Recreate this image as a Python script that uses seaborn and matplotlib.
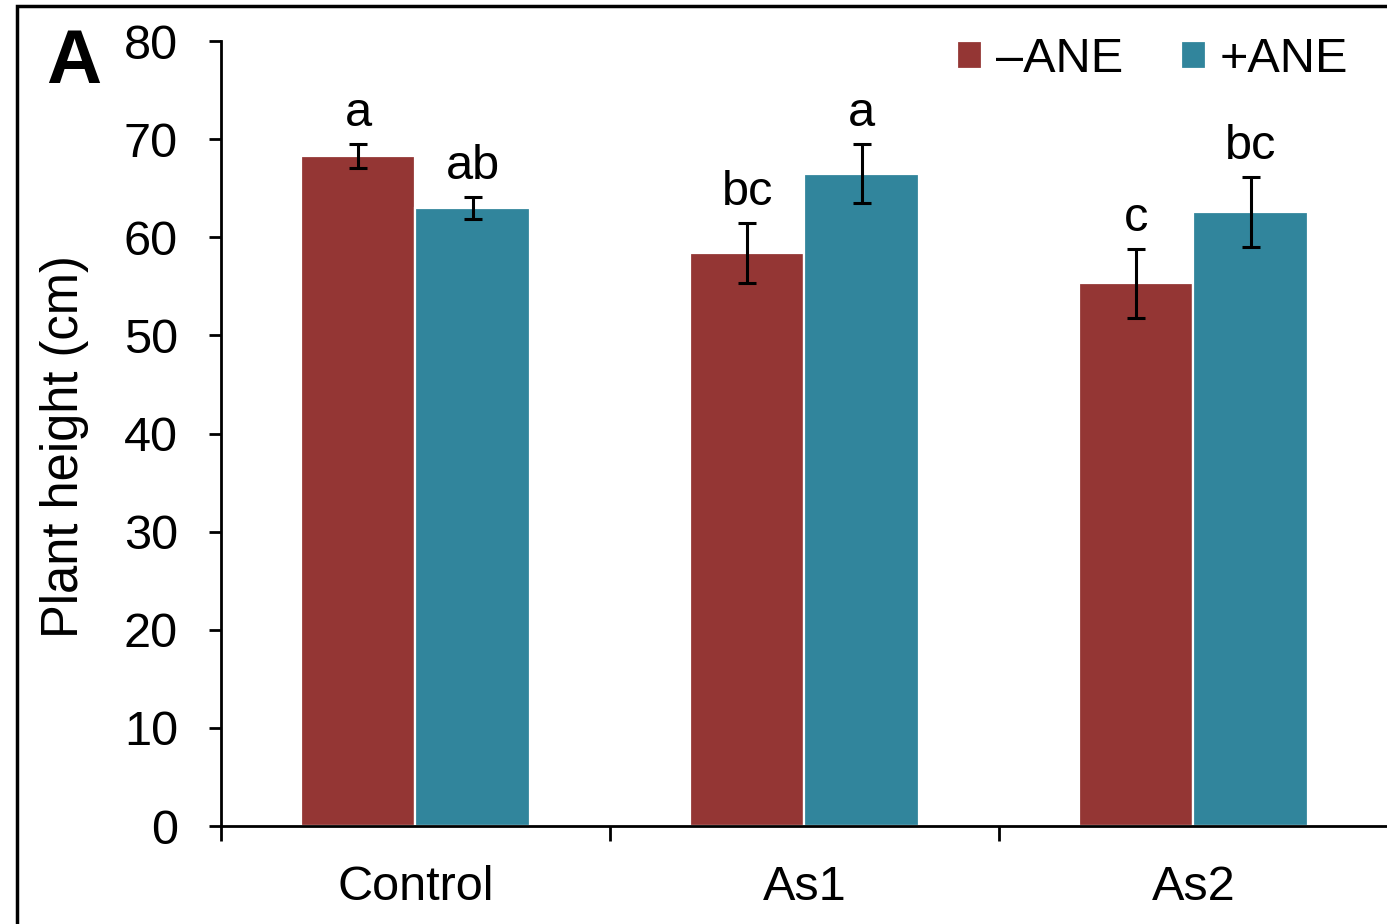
import numpy as np
import pandas as pd
import matplotlib
matplotlib.use("Agg")
import matplotlib.pyplot as plt
from matplotlib.patches import Rectangle
import seaborn as sns

# ------------------ Data ------------------
groups = ["Control", "As1", "As2"]
treatments = ["\u2013ANE", "+ANE"]
minus_ane = [68.3, 58.4, 55.3]
plus_ane = [63.0, 66.5, 62.6]
minus_err = [1.2, 3.1, 3.5]
plus_err = [1.1, 3.0, 3.6]
minus_letters = ["a", "bc", "c"]
plus_letters = ["ab", "a", "bc"]

colors = ["#943634", "#31859C"]

df = pd.DataFrame({
    "Group": groups * 2,
    "Treatment": [treatments[0]] * 3 + [treatments[1]] * 3,
    "Height": minus_ane + plus_ane,
})

# ------------------ Style ------------------
sns.set_style("ticks")
plt.rcParams['font.family'] = ['Liberation Sans', 'DejaVu Sans']
plt.rcParams['axes.linewidth'] = 2.0
for key in ['text.color', 'axes.labelcolor', 'xtick.color', 'ytick.color', 'axes.edgecolor']:
    plt.rcParams[key] = 'black'

fig = plt.figure(figsize=(13.87, 9.24), dpi=100)
ax = fig.add_axes([0.1593, 0.106, 0.8414, 0.8495])

sns.barplot(data=df, x="Group", y="Height", hue="Treatment", order=groups,
            hue_order=treatments, palette=colors, width=0.59, gap=0,
            errorbar=None, edgecolor="white", linewidth=1.6, saturation=1,
            legend=False, ax=ax)

bar_sets = list(ax.containers)

# ------------------ Error bars + letters ------------------
errs = [minus_err, plus_err]
letters = [minus_letters, plus_letters]
for i, cont in enumerate(bar_sets):
    xs = [b.get_x() + b.get_width() / 2 for b in cont]
    hs = [b.get_height() for b in cont]
    ax.errorbar(xs, hs, yerr=errs[i], fmt='none', ecolor='black',
                elinewidth=2.2, capsize=6.5, capthick=2.2, zorder=5)
    for x, h, e, lab in zip(xs, hs, errs[i], letters[i]):
        ax.text(x, h + e + 1.8, lab, ha='center', va='baseline', fontsize=35)

# ------------------ Axes ------------------
ax.set_ylim(0, 80)
ax.set_xlim(-0.5, 2.5)
ax.set_yticks(np.arange(0, 81, 10))
ax.tick_params(axis='y', labelsize=35, length=9, width=2, pad=22, direction='out')
ax.tick_params(axis='x', which='major', labelsize=35, length=0, pad=28)
ax.set_xticks([-0.5, 0.5, 1.5, 2.5], minor=True)
ax.tick_params(axis='x', which='minor', length=11, width=2, direction='out')
ax.set_xlabel("")
ax.set_ylabel("Plant height (cm)", fontsize=36.5)
ax.yaxis.set_label_coords(-0.113, 0.483)
sns.despine(ax=ax)

# ------------------ Legend ------------------
ax.legend(bar_sets, treatments, loc='upper right', ncol=2, frameon=False,
          fontsize=35, handlelength=0.52, handleheight=0.52, handletextpad=0.27,
          columnspacing=1.2, borderaxespad=0, borderpad=0.1,
          bbox_to_anchor=(0.970, 1.011))

# panel letter and outer frame
fig.text(0.033, 0.931, "A", fontsize=55, fontweight='bold', va='center', ha='left')
fig.patches.append(Rectangle((0.012, -0.5), 2, 1.4935, transform=fig.transFigure,
                             fill=False, edgecolor='black', linewidth=2.5))

fig.savefig("out.png", dpi=100)
